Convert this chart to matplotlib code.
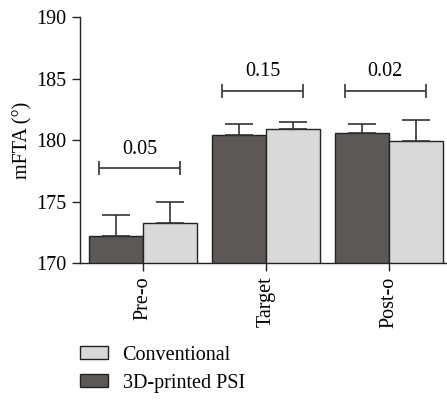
import numpy as np
import matplotlib.pyplot as plt
from matplotlib.patches import Patch

plt.rcParams['font.family'] = ['Liberation Serif', 'DejaVu Serif']
plt.rcParams['font.size'] = 14.5

categories = ['Pre-o', 'Target', 'Post-o']
printed_mean = [172.2, 180.4, 180.6]
printed_err = [1.7, 0.9, 0.7]
conv_mean = [173.3, 180.9, 179.9]
conv_err = [1.7, 0.55, 1.75]
p_values = ['0.05', '0.15', '0.02']
bracket_y = [177.7, 184.0, 184.0]

dark = '#5d5856'
light = '#d9d9d9'

fig = plt.figure(figsize=(4.47, 4.17), dpi=100)
ax = fig.add_axes([0.179, 0.369, 0.819, 0.59])

x = np.arange(len(categories))
w = 0.44
ax.bar(x - w / 2, printed_mean, w, color=dark, edgecolor='#222222', linewidth=1.0)
ax.bar(x + w / 2, conv_mean, w, color=light, edgecolor='#222222', linewidth=1.0)
ax.errorbar(x - w / 2, printed_mean, yerr=[np.zeros(3), printed_err], fmt='none',
            ecolor='#333333', elinewidth=1.2, capsize=10, capthick=1.2)
ax.errorbar(x + w / 2, conv_mean, yerr=[np.zeros(3), conv_err], fmt='none',
            ecolor='#333333', elinewidth=1.2, capsize=10, capthick=1.2)

for i in range(len(categories)):
    c = x[i] - 0.03
    ax.errorbar([c], [bracket_y[i]], xerr=[[0.33], [0.33]], fmt='none',
                ecolor='#333333', elinewidth=1.2, capsize=5, capthick=1.2)
    ax.text(c, bracket_y[i] + 0.8, p_values[i], ha='center', va='bottom', fontsize=14.5)

ax.set_ylim(170, 190)
ax.set_yticks([170, 175, 180, 185, 190])
ax.set_xlim(-0.515, 2.465)
ax.set_xticks(x)
ax.set_xticklabels(categories, rotation=90)
ax.set_ylabel('mFTA (°)', fontsize=14.5, labelpad=3)
ax.spines['top'].set_visible(False)
ax.spines['right'].set_visible(False)
for s in ['left', 'bottom']:
    ax.spines[s].set_linewidth(1.0)
    ax.spines[s].set_color('#222222')
ax.tick_params(direction='out', length=6, width=1.0, color='#222222', labelsize=14.5)

handles = [Patch(facecolor=light, edgecolor='#222222', label='Conventional'),
           Patch(facecolor=dark, edgecolor='#222222', label='3D-printed PSI')]
fig.legend(handles=handles, loc='lower left', bbox_to_anchor=(0.139, 0.015), frameon=False,
           handlelength=1.4, handleheight=0.6, handletextpad=0.7, labelspacing=0.45,
           fontsize=14.5)

fig.savefig('out.png', dpi=100)
